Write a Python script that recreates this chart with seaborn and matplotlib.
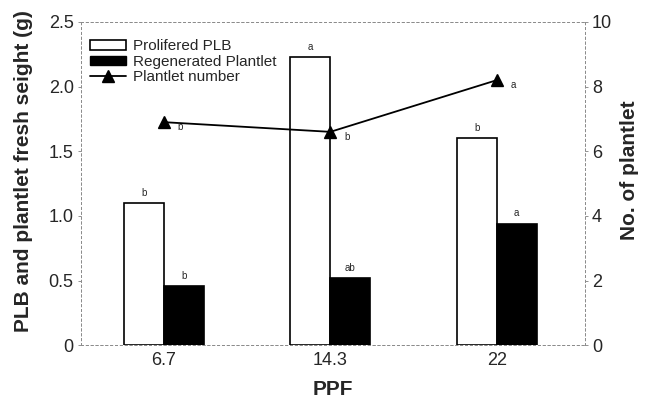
import seaborn as sns
import matplotlib.pyplot as plt
import pandas as pd
from matplotlib.lines import Line2D
from matplotlib.patches import Patch

# values
ppf = ["6.7", "14.3", "22"]
plb_weight = [1.10, 2.23, 1.60]
plantlet_weight = [0.46, 0.52, 0.94]
plantlet_number = [6.9, 6.6, 8.2]
plb_letters = ["b", "a", "b"]
plantlet_letters = ["b", "ab", "a"]
number_letters = ["b", "b", "a"]

df = pd.DataFrame({
    "PPF": ppf * 2,
    "weight": plb_weight + plantlet_weight,
    "kind": ["Prolifered PLB"] * 3 + ["Regenerated Plantlet"] * 3,
})
df_num = pd.DataFrame({"PPF": ppf, "number": plantlet_number})

sns.set_style("white")
plt.rcParams["font.family"] = ["Liberation Sans", "DejaVu Sans"]

fig, ax = plt.subplots(figsize=(6.45, 4.07), dpi=100)
fig.subplots_adjust(left=0.125, right=0.907, top=0.946, bottom=0.152)

sns.barplot(data=df, x="PPF", y="weight", hue="kind", ax=ax,
            palette=["white", "black"], width=0.48, edgecolor="black",
            linewidth=1.2, legend=False, saturation=1)

ax2 = ax.twinx()
sns.pointplot(data=df_num, x="PPF", y="number", ax=ax2, color="black",
              marker="^", markersize=9, linewidth=1.3)

ax.set_ylim(0, 2.5)
ax2.set_ylim(0, 10)
ax.set_xlim(-0.5, 2.53)
ax2.set_xlim(-0.5, 2.53)
ax.set_yticks([0, 0.5, 1.0, 1.5, 2.0, 2.5])
ax.set_yticklabels(["0", "0.5", "1.0", "1.5", "2.0", "2.5"])
ax2.set_yticks([0, 2, 4, 6, 8, 10])

ax.set_xlabel("PPF", fontsize=15, fontweight="bold", labelpad=8)
ax.set_ylabel("PLB and plantlet fresh seight (g)", fontsize=15,
              fontweight="bold")
ax2.set_ylabel("No. of plantlet", fontsize=15, fontweight="bold",
               rotation=90)
ax.yaxis.set_label_coords(-0.095, 0.54)
ax2.yaxis.set_label_coords(1.07, 0.54)

for a in (ax, ax2):
    a.tick_params(labelsize=13, length=2, color="0.5", width=0.6, pad=3)
    for s in a.spines.values():
        s.set_linestyle((0, (2, 3)))
        s.set_color("0.55")
        s.set_linewidth(0.7)

# significance letters
off = 0.12
for i in range(3):
    ax.text(i - off, plb_weight[i] + 0.04, plb_letters[i], ha="center",
            va="bottom", fontsize=7)
    ax.text(i + off, plantlet_weight[i] + 0.04, plantlet_letters[i],
            ha="center", va="bottom", fontsize=7)
    ax2.text(i + 0.1, plantlet_number[i] - 0.15, number_letters[i],
             ha="center", va="center", fontsize=7)

handles = [
    Patch(facecolor="white", edgecolor="black", linewidth=1.2),
    Patch(facecolor="black", edgecolor="black"),
    Line2D([0], [0], color="black", marker="^", markersize=8, linewidth=1.3),
]
ax2.legend(handles, ["Prolifered PLB", "Regenerated Plantlet", "Plantlet number"],
           loc="upper left", bbox_to_anchor=(0.0, 0.975), frameon=False,
           fontsize=11, handlelength=2.4, handleheight=0.6,
           labelspacing=0.1, borderaxespad=0.2, handletextpad=0.4)

plt.savefig("out.png", dpi=100)
